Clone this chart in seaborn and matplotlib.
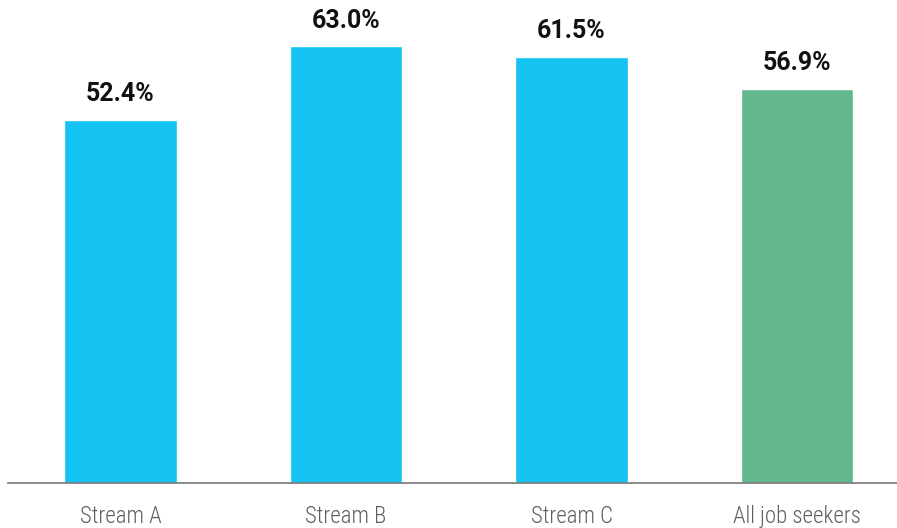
import matplotlib
matplotlib.use("Agg")
import matplotlib.pyplot as plt
import seaborn as sns
import pandas as pd

categories = ["Stream A", "Stream B", "Stream C", "All job seekers"]
values = [52.4, 63.0, 61.5, 56.9]
labels = ["52.4%", "63.0%", "61.5%", "56.9%"]
bar_colors = ["#15C4F2", "#15C4F2", "#15C4F2", "#62B78C"]

sns.set_theme(style="white")
plt.rcParams["font.family"] = ["Roboto", "DejaVu Sans"]

df = pd.DataFrame({"group": categories, "value": values})

W, H = 897, 528
fig = plt.figure(figsize=(W / 100, H / 100), dpi=100)
# axes runs from x=7.75px, baseline at y=483px
ax = fig.add_axes([7.75 / W, 45 / H, (W - 7.75) / W, 483 / H])

sns.barplot(data=df, x="group", y="value", hue="group", palette=bar_colors,
            width=0.5, legend=False, ax=ax, saturation=1)

ax.set_xlim(-0.5, 3.5 - 12.75 / 225.5)
ax.set_ylim(0, 69.7)
ax.set_xlabel("")
ax.set_ylabel("")
ax.set_yticks([])

for s in ["top", "right", "left"]:
    ax.spines[s].set_visible(False)
ax.spines["bottom"].set_color("#777777")
ax.spines["bottom"].set_linewidth(1.2)

ax.tick_params(axis="x", length=0, pad=16)
for t in ax.get_xticklabels():
    t.set_fontfamily(["Roboto Condensed", "Liberation Sans Narrow", "DejaVu Sans"])
    t.set_fontsize(16.5)
    t.set_fontweight("light")
    t.set_color("#5f5f5f")

for i, (v, lab) in enumerate(zip(values, labels)):
    ax.annotate(lab, (i, v), xytext=(0, 10), textcoords="offset points",
                ha="center", va="bottom", fontsize=18, fontweight="bold",
                color="#111111")

fig.savefig("out.png", dpi=100)
